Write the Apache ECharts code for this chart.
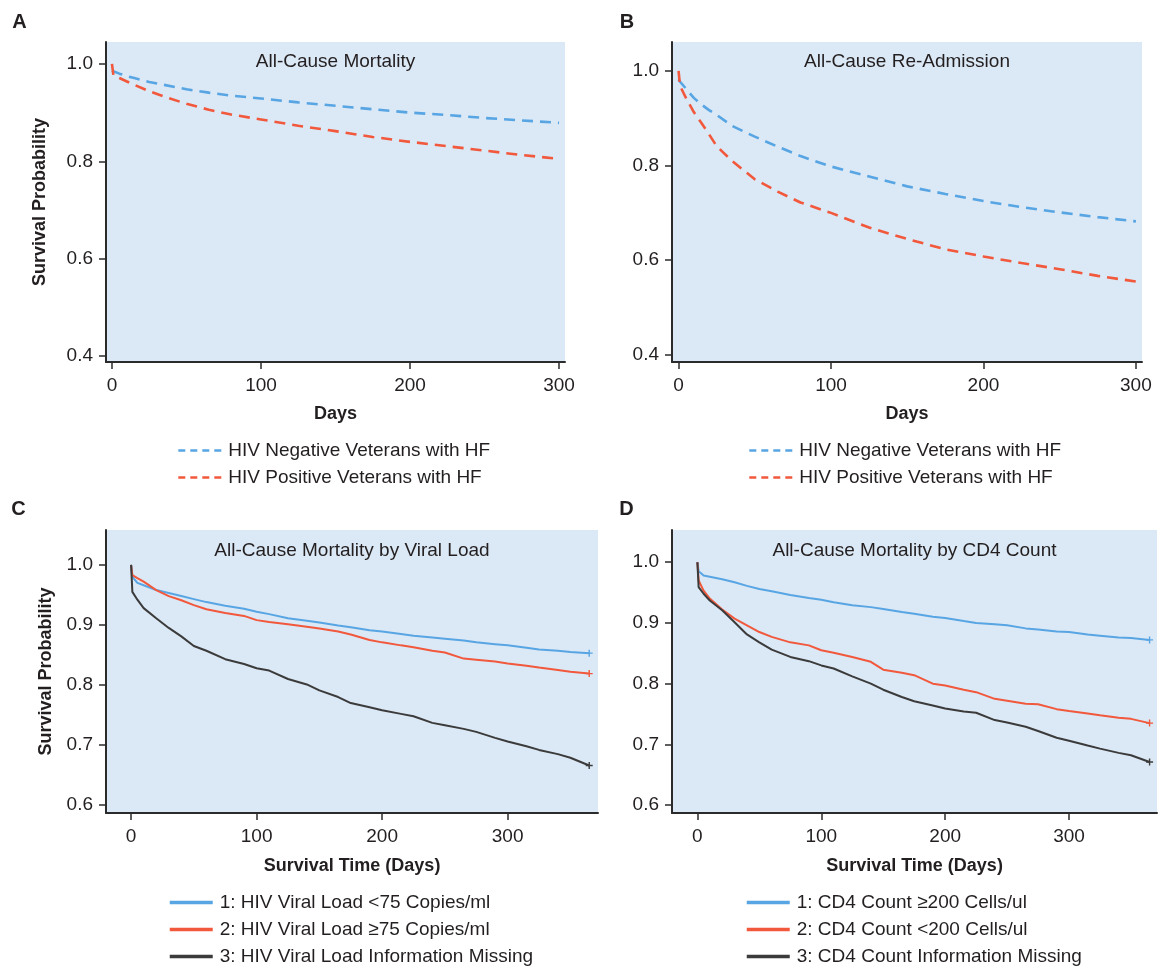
<!DOCTYPE html>
<html>
<head>
<meta charset="utf-8">
<script src="https://cdn.jsdelivr.net/npm/echarts@6/dist/echarts.min.js"></script>
<style>
html,body{margin:0;padding:0;background:#fff;}
#chart{width:1168px;height:971px;}
</style>
</head>
<body>
<div id="chart"></div>
<script>
// ---------- DATA ----------
// Panel A: All-Cause Mortality (days 0-300)
const daysA = [0, 1, 5, 10, 15, 25, 35, 50, 65, 80, 100, 125, 150, 175, 200, 225, 250, 275, 300];
const aNeg  = [0.986, 0.984, 0.980, 0.975, 0.971, 0.963, 0.957, 0.948, 0.941, 0.935, 0.929, 0.921, 0.914, 0.907, 0.900, 0.895, 0.889, 0.884, 0.879];
const aPos  = [1.000, 0.976, 0.971, 0.964, 0.957, 0.944, 0.933, 0.918, 0.906, 0.896, 0.886, 0.873, 0.862, 0.850, 0.840, 0.831, 0.822, 0.813, 0.805];

// Panel B: All-Cause Re-Admission (days 0-300)
const daysB = [0, 1, 5, 10, 15, 20, 25, 35, 50, 65, 80, 100, 125, 150, 175, 200, 225, 250, 275, 300];
const bNeg  = [0.982, 0.977, 0.962, 0.943, 0.929, 0.917, 0.907, 0.884, 0.861, 0.840, 0.820, 0.798, 0.777, 0.756, 0.740, 0.725, 0.712, 0.701, 0.691, 0.682];
const bPos  = [1.000, 0.968, 0.942, 0.913, 0.890, 0.866, 0.841, 0.810, 0.771, 0.745, 0.722, 0.700, 0.669, 0.645, 0.623, 0.608, 0.594, 0.581, 0.567, 0.555];

// Panels C & D: Kaplan-Meier estimates (days 0-365)
const daysKM = [0, 1, 5, 10, 20, 30, 40, 50, 60, 75, 90, 100, 110, 125, 140, 150, 165, 175, 190, 200, 215, 225, 240, 250, 265, 275, 290, 300, 315, 325, 340, 350, 365];
const cLow  = [1.0, 0.980, 0.970, 0.966, 0.958, 0.953, 0.948, 0.943, 0.938, 0.932, 0.927, 0.922, 0.918, 0.911, 0.907, 0.904, 0.899, 0.896, 0.891, 0.889, 0.885, 0.882, 0.879, 0.877, 0.874, 0.871, 0.868, 0.866, 0.862, 0.859, 0.857, 0.855, 0.853];
const cHigh = [1.0, 0.983, 0.978, 0.972, 0.958, 0.948, 0.941, 0.933, 0.926, 0.920, 0.915, 0.908, 0.905, 0.901, 0.897, 0.894, 0.889, 0.884, 0.875, 0.871, 0.866, 0.863, 0.857, 0.854, 0.844, 0.842, 0.839, 0.836, 0.832, 0.829, 0.825, 0.822, 0.819];
const cMiss = [1.0, 0.955, 0.942, 0.928, 0.911, 0.895, 0.881, 0.865, 0.857, 0.843, 0.835, 0.828, 0.824, 0.810, 0.801, 0.791, 0.780, 0.770, 0.763, 0.758, 0.752, 0.748, 0.737, 0.733, 0.727, 0.722, 0.712, 0.706, 0.698, 0.692, 0.685, 0.679, 0.666];
const dHigh = [1.0, 0.985, 0.978, 0.976, 0.972, 0.967, 0.961, 0.956, 0.952, 0.946, 0.941, 0.938, 0.934, 0.929, 0.926, 0.923, 0.918, 0.915, 0.910, 0.908, 0.903, 0.900, 0.898, 0.896, 0.891, 0.889, 0.886, 0.885, 0.881, 0.879, 0.876, 0.875, 0.872];
const dLow  = [1.0, 0.970, 0.953, 0.940, 0.922, 0.907, 0.896, 0.885, 0.877, 0.868, 0.863, 0.855, 0.851, 0.844, 0.836, 0.823, 0.818, 0.814, 0.800, 0.797, 0.790, 0.786, 0.775, 0.772, 0.767, 0.766, 0.758, 0.755, 0.751, 0.748, 0.744, 0.742, 0.735];
const dMiss = [1.0, 0.959, 0.948, 0.937, 0.921, 0.901, 0.881, 0.868, 0.856, 0.844, 0.837, 0.830, 0.825, 0.812, 0.800, 0.790, 0.778, 0.771, 0.764, 0.759, 0.754, 0.752, 0.740, 0.736, 0.729, 0.722, 0.711, 0.706, 0.698, 0.693, 0.686, 0.682, 0.671];

// Labels
const panelLetters = ['A', 'B', 'C', 'D'];
const panelTitles = ['All-Cause Mortality', 'All-Cause Re-Admission', 'All-Cause Mortality by Viral Load', 'All-Cause Mortality by CD4 Count'];
const namesAB = ['HIV Negative Veterans with HF', 'HIV Positive Veterans with HF'];
const namesC = ['1: HIV Viral Load <75 Copies/ml', '2: HIV Viral Load \u226575 Copies/ml', '3: HIV Viral Load Information Missing'];
const namesD = ['1: CD4 Count \u2265200 Cells/ul', '2: CD4 Count <200 Cells/ul', '3: CD4 Count Information Missing'];
const xTicksAB = [0, 100, 200, 300];
const yTicksAB = [0.4, 0.6, 0.8, 1.0];
const xTicksCD = [0, 100, 200, 300];
const yTicksCD = [0.6, 0.7, 0.8, 0.9, 1.0];

// ---------- STYLE ----------
const FONT = 'Liberation Sans, Arial, sans-serif';
const TXT = '#231f20';
const BLUE = '#58a5e4';
const RED = '#f1583c';
const DARK = '#3b3b3b';
const BG = '#dbe8f5';
const AXIS = '#2b2b2b';

const grids = [
  {left: 106, top: 42, width: 459, height: 320},
  {left: 672, top: 42, width: 470, height: 320},
  {left: 106, top: 530, width: 492, height: 283},
  {left: 672, top: 530, width: 485, height: 283}
];
const xRanges = [[-4, 304], [-4.3, 304], [-20, 372], [-20.5, 371]];
const yRanges = [[0.388, 1.045], [0.385, 1.061], [0.587, 1.058], [0.587, 1.053]];

const chart = echarts.init(document.getElementById('chart'), null, {renderer: 'canvas'});

function xAxis(i, ticks, name, gap) {
  return {
    type: 'value', gridIndex: i, min: xRanges[i][0], max: xRanges[i][1],
    name: name, nameLocation: 'middle', nameGap: gap,
    nameTextStyle: {fontFamily: FONT, fontWeight: 'bold', fontSize: 18, color: TXT},
    axisLine: {show: true, onZero: false, lineStyle: {color: AXIS, width: 2}},
    axisTick: {show: true, length: 7, customValues: ticks, lineStyle: {color: AXIS, width: 1.5}},
    axisLabel: {customValues: ticks, margin: 14, fontFamily: FONT, fontSize: 19, color: TXT},
    splitLine: {show: false}
  };
}
function yAxis(i, ticks, name, gap) {
  return {
    type: 'value', gridIndex: i, min: yRanges[i][0], max: yRanges[i][1],
    name: name, nameLocation: 'middle', nameGap: gap, nameRotate: 90,
    nameTextStyle: {fontFamily: FONT, fontWeight: 'bold', fontSize: 18, color: TXT},
    axisLine: {show: true, onZero: false, lineStyle: {color: AXIS, width: 2}},
    axisTick: {show: true, length: 7, customValues: ticks, lineStyle: {color: AXIS, width: 1.5}},
    axisLabel: {customValues: ticks, margin: 13, fontFamily: FONT, fontSize: 19, color: TXT,
      formatter: v => v.toFixed(1)},
    splitLine: {show: false}
  };
}
const plusPath = 'path://M4,0H6V4H10V6H6V10H4V6H0V4H4Z';
function dashed(name, days, vals, gi, color) {
  return {
    name: name, type: 'line', xAxisIndex: gi, yAxisIndex: gi,
    data: days.map((d, k) => [d, vals[k]]),
    smooth: false, symbol: 'none', silent: true,
    lineStyle: {color: color, width: 2.6, type: [11, 7]},
    itemStyle: {color: color}
  };
}
function km(name, days, vals, gi, color) {
  const data = days.map((d, k) => {
    if (k === days.length - 1) return {value: [d, vals[k]], symbol: plusPath, symbolSize: 7};
    return [d, vals[k]];
  });
  return {
    name: name, type: 'line', xAxisIndex: gi, yAxisIndex: gi,
    data: data, symbol: 'none', showSymbol: true, silent: true,
    lineStyle: {color: color, width: 2},
    itemStyle: {color: color}
  };
}

const graphics = [];
const letterPos = [[19.5, 22], [627, 22], [18.5, 509], [626.5, 509]];
const titleY = [62, 62, 551, 551];
panelLetters.forEach((L, i) => {
  graphics.push({type: 'text', x: letterPos[i][0], y: letterPos[i][1],
    style: {text: L, font: 'bold 20px ' + FONT, fill: TXT, textAlign: 'center', textVerticalAlign: 'middle'}});
  const g = grids[i];
  graphics.push({type: 'text', x: g.left + g.width / 2, y: titleY[i],
    style: {text: panelTitles[i], font: '19px ' + FONT, fill: TXT, textAlign: 'center', textVerticalAlign: 'middle'}});
});

function legend(names, left, top, dash) {
  return {
    data: names, orient: 'vertical', left: left, top: top, padding: 0,
    itemWidth: 43, itemHeight: 14, itemGap: 8, selectedMode: false,
    textStyle: {fontFamily: FONT, fontSize: 19, color: TXT, padding: [0, 0, 0, 2]},
    itemStyle: {opacity: 0, color: 'transparent', borderWidth: 0},
    lineStyle: dash ? {type: [7, 5], width: 2.6} : {width: 3.5}
  };
}

chart.setOption({
  animation: false,
  backgroundColor: '#ffffff',
  textStyle: {fontFamily: FONT},
  grid: grids.map(g => Object.assign({show: true, backgroundColor: BG, borderWidth: 0, containLabel: false}, g)),
  xAxis: [
    xAxis(0, xTicksAB, 'Days', 43),
    xAxis(1, xTicksAB, 'Days', 43),
    xAxis(2, xTicksCD, 'Survival Time (Days)', 44),
    xAxis(3, xTicksCD, 'Survival Time (Days)', 44)
  ],
  yAxis: [
    yAxis(0, yTicksAB, 'Survival Probability', 56.5),
    yAxis(1, yTicksAB, '', 60),
    yAxis(2, yTicksCD, 'Survival Probability', 51),
    yAxis(3, yTicksCD, '', 60)
  ],
  legend: [
    legend(namesAB, 177, 441, true),
    legend(namesAB, 748, 441, true),
    legend(namesC, 168, 893, false),
    legend(namesD, 745, 893, false)
  ],
  graphic: graphics,
  series: [
    dashed(namesAB[0], daysA, aNeg, 0, BLUE),
    dashed(namesAB[1], daysA, aPos, 0, RED),
    dashed(namesAB[0], daysB, bNeg, 1, BLUE),
    dashed(namesAB[1], daysB, bPos, 1, RED),
    km(namesC[0], daysKM, cLow, 2, BLUE),
    km(namesC[1], daysKM, cHigh, 2, RED),
    km(namesC[2], daysKM, cMiss, 2, DARK),
    km(namesD[0], daysKM, dHigh, 3, BLUE),
    km(namesD[1], daysKM, dLow, 3, RED),
    km(namesD[2], daysKM, dMiss, 3, DARK)
  ]
});
</script>
</body>
</html>
